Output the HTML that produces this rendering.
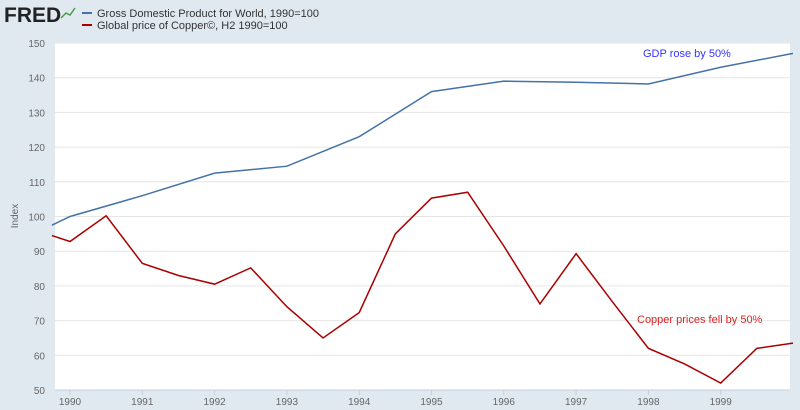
<!DOCTYPE html>
<html><head><meta charset="utf-8"><style>
body{margin:0;background:#e1e9f0;font-family:"Liberation Sans",sans-serif;}
svg{display:block}
</style></head><body>
<svg width="800" height="410">
<rect width="800" height="410" fill="#e1e9f0"/>
<text x="4" y="22" font-size="21" font-weight="bold" fill="#222">FRED</text>
<polyline points="61,18 66,13 70,15 75,8" fill="none" stroke="#4a9a4a" stroke-width="1.5"/>
<line x1="82" y1="13" x2="92" y2="13" stroke="#4572a7" stroke-width="2"/>
<text x="97" y="17" font-size="11" fill="#333">Gross Domestic Product for World, 1990=100</text>
<line x1="82" y1="25" x2="92" y2="25" stroke="#aa0000" stroke-width="2"/>
<text x="97" y="29" font-size="11" fill="#333">Global price of Copper©, H2 1990=100</text>
<rect x="55" y="43" width="735" height="347" fill="#fff"/>
<g id="grid"></g><g id="series"></g>
<text transform="translate(18,216) rotate(-90)" font-size="10" fill="#666" text-anchor="middle">Index</text>
<text x="643" y="57" font-size="11" fill="#3333ff">GDP rose by 50%</text>
<text x="637" y="323" font-size="11" fill="#dd2222">Copper prices fell by 50%</text>
</svg>
<script>
const yTicks=[50,60,70,80,90,100,110,120,130,140,150];
const xTicks=[1990,1991,1992,1993,1994,1995,1996,1997,1998,1999];
const gdpDates=[1989.75,1990,1991,1992,1993,1994,1995,1996,1997,1998,1999,2000];
const gdpValues=[97.5,100,106,112.5,114.5,123,136,139,138.7,138.2,143,147];
const cuDates=[1989.75,1990,1990.5,1991,1991.5,1992,1992.5,1993,1993.5,1994,1994.5,1995,1995.5,1996,1996.5,1997,1997.5,1998,1998.5,1999,1999.5,2000];
const cuValues=[94.5,92.8,100.2,86.5,83,80.5,85.2,74,65,72.3,95,105.3,107,91.5,74.8,89.3,75.5,62,57.5,52,62,63.5];
const NS="http://www.w3.org/2000/svg";
const xS=d=>70+(d-1990)*72.3;
const yS=v=>390-(v-50)*3.47;
const grid=document.getElementById('grid'),ser=document.getElementById('series');
function mk(t,a,p){const e=document.createElementNS(NS,t);for(const k in a)e.setAttribute(k,a[k]);p.appendChild(e);return e;}
yTicks.forEach(v=>{
 if(v>50){const l=mk('line',{x1:55,x2:790,y1:yS(v),y2:yS(v),stroke:'#e6e6e6'},grid);
 
 }
 const t=mk('text',{x:45,y:yS(v)+4,'font-size':10,fill:'#666','text-anchor':'end'},grid);t.textContent=v;
 
 
});
const ax=mk('line',{x1:55,x2:790,y1:390,y2:390,stroke:'#c0d0e0'},grid);


xTicks.forEach(d=>{
 const tk=mk('line',{x1:xS(d),x2:xS(d),y1:390,y2:395,stroke:'#c0d0e0'},grid);
 
 
 const t=mk('text',{x:xS(d),y:405,'font-size':10,fill:'#666','text-anchor':'middle'},grid);t.textContent=d;
 
 
});
function line(ds,vs,c,n){const p=mk('polyline',{points:ds.map((d,i)=>xS(d)+','+yS(vs[i])).join(' '),fill:'none',stroke:c,'stroke-width':1.5},ser);
 
 }
line(gdpDates,gdpValues,'#4572a7','gdp-line');
line(cuDates,cuValues,'#aa0000','copper-line');
</script>
</body></html>
